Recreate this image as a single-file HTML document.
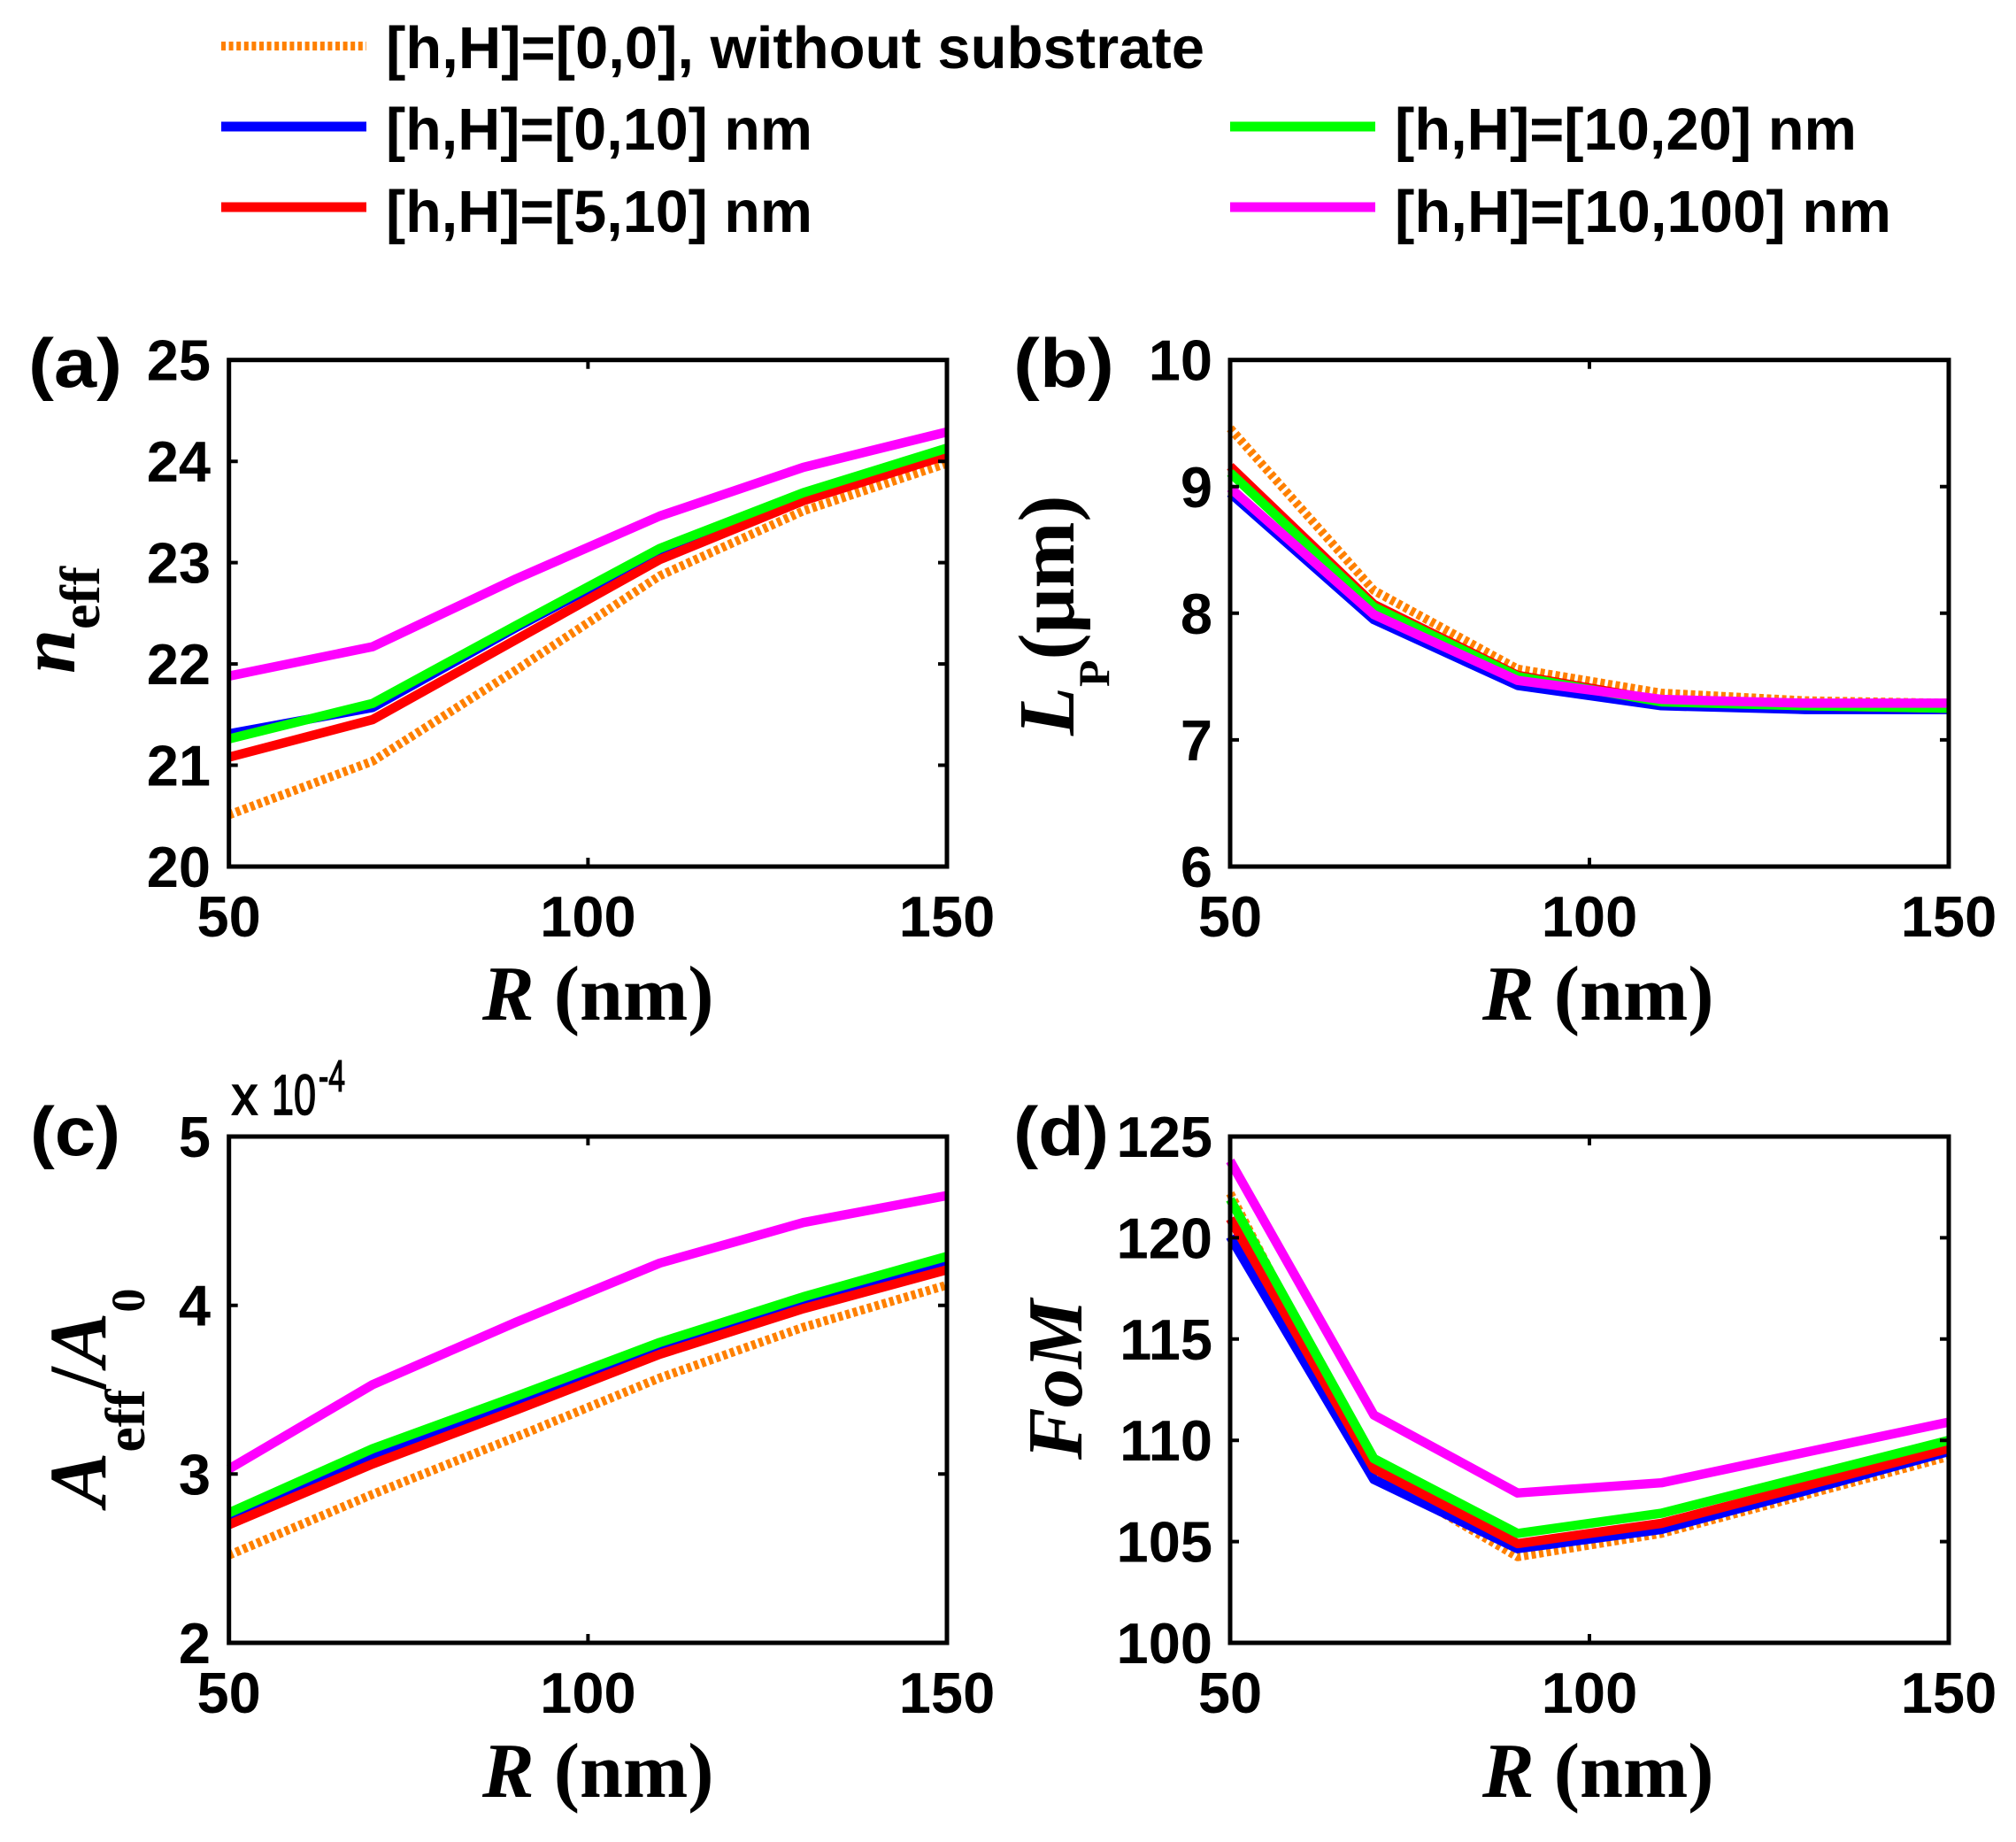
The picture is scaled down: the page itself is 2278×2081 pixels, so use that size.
<!DOCTYPE html>
<html>
<head>
<meta charset="utf-8">
<style>
html,body{margin:0;padding:0;background:#fff;}
svg{display:block;}
.tk{font-family:"Liberation Sans",Arial,sans-serif;font-weight:bold;font-size:65px;fill:#000;}
.lg{font-family:"Liberation Sans",Arial,sans-serif;font-weight:bold;font-size:67px;fill:#000;}
.pl{font-family:"Liberation Sans",Arial,sans-serif;font-weight:bold;font-size:78px;fill:#000;}
.tm{font-family:"Liberation Serif","Times New Roman",serif;font-weight:bold;fill:#000;}
.it{font-style:italic;}
.ex{font-family:"Liberation Sans",Arial,sans-serif;fill:#000;stroke:#000;}
</style>
</head>
<body>
<svg width="2278" height="2081" viewBox="0 0 2278 2081" xmlns="http://www.w3.org/2000/svg">
<rect x="0" y="0" width="2278" height="2081" fill="#fff"/>

<!-- Legend -->
<g fill="none" stroke-linecap="butt">
  <line x1="250" y1="52" x2="414" y2="52" stroke="#FF8000" stroke-width="10" stroke-dasharray="5 3.6"/>
  <line x1="250" y1="143" x2="414" y2="143" stroke="#0000FF" stroke-width="11"/>
  <line x1="250" y1="234" x2="414" y2="234" stroke="#FF0000" stroke-width="11"/>
  <line x1="1390" y1="143" x2="1554" y2="143" stroke="#00FF00" stroke-width="11"/>
  <line x1="1390" y1="234" x2="1554" y2="234" stroke="#FF00FF" stroke-width="11"/>
</g>
<text class="lg" x="436" y="77" textLength="925" lengthAdjust="spacingAndGlyphs">[h,H]=[0,0], without substrate</text>
<text class="lg" x="436" y="169" textLength="482" lengthAdjust="spacingAndGlyphs">[h,H]=[0,10] nm</text>
<text class="lg" x="436" y="262" textLength="482" lengthAdjust="spacingAndGlyphs">[h,H]=[5,10] nm</text>
<text class="lg" x="1576" y="169" textLength="522" lengthAdjust="spacingAndGlyphs">[h,H]=[10,20] nm</text>
<text class="lg" x="1576" y="262" textLength="561" lengthAdjust="spacingAndGlyphs">[h,H]=[10,100] nm</text>

<!-- ============ Panel (a) ============ -->
<g fill="none" stroke-linejoin="round" stroke-linecap="butt">
  <polyline stroke="#FF8000" stroke-width="10" stroke-dasharray="5 3.6" points="258.7,920.6 421,860 583.2,756.9 745.5,650.5 907.7,577.2 1070,523.4"/>
  <polyline stroke="#0000FF" stroke-width="10.5" points="258.7,829.1 421,799.3 583.2,708.9 745.5,623 907.7,560.1 1070,509.7"/>
  <polyline stroke="#FF0000" stroke-width="10.5" points="258.7,855.4 421,813 583.2,722.6 745.5,632.2 907.7,565.8 1070,514.3"/>
  <polyline stroke="#00FF00" stroke-width="10.5" points="258.7,834.8 421,794.7 583.2,706.6 745.5,619.6 907.7,556.6 1070,506.3"/>
  <polyline stroke="#FF00FF" stroke-width="10.5" points="258.7,763.8 421,730.6 583.2,653.9 745.5,583 907.7,528 1070,488"/>
</g>
<g stroke="#000" fill="none">
  <rect x="258.7" y="406.7" width="811.3" height="572.3" stroke-width="5"/>
  <path stroke-width="4" d="M258.7,864.5h10M258.7,750.1h10M258.7,635.6h10M258.7,521.2h10
  M1070,864.5h-10M1070,750.1h-10M1070,635.6h-10M1070,521.2h-10
  M664.4,979v-10M664.4,406.7v10"/>
</g>
<g class="tk" text-anchor="end">
  <text x="238" y="1002">20</text>
  <text x="238" y="887.5">21</text>
  <text x="238" y="773.1">22</text>
  <text x="238" y="658.6">23</text>
  <text x="238" y="544.2">24</text>
  <text x="238" y="429.7">25</text>
</g>
<g class="tk" text-anchor="middle">
  <text x="258.7" y="1058">50</text>
  <text x="664.4" y="1058">100</text>
  <text x="1070" y="1058">150</text>
</g>
<text class="tm" x="545" y="1152" font-size="88"><tspan class="it">R</tspan> (nm)</text>
<text class="tm" transform="translate(84,761) rotate(-90)" font-size="90"><tspan class="it">n</tspan><tspan font-size="64" dy="28">eff</tspan></text>
<text class="pl" x="32" y="437" textLength="106" lengthAdjust="spacingAndGlyphs">(a)</text>

<!-- ============ Panel (b) ============ -->
<g fill="none" stroke-linejoin="round" stroke-linecap="butt">
  <polyline stroke="#FF8000" stroke-width="10" stroke-dasharray="5 3.6" points="1390,483.9 1552.4,667.1 1714.8,755.8 1877.2,783 2039.6,791.6 2202,794.4"/>
  <polyline stroke="#0000FF" stroke-width="10.5" points="1390,556.9 1552.4,700 1714.8,774.4 1877.2,797.3 2039.6,801.6 2202,801.6"/>
  <polyline stroke="#FF0000" stroke-width="10.5" points="1390,526.9 1552.4,682.8 1714.8,762.9 1877.2,791.6 2039.6,797.3 2202,800.1"/>
  <polyline stroke="#00FF00" stroke-width="10.5" points="1390,534 1552.4,685.7 1714.8,764.4 1877.2,793 2039.6,797.3 2202,800.1"/>
  <polyline stroke="#FF00FF" stroke-width="10.5" points="1390,551.2 1552.4,694.3 1714.8,768.7 1877.2,790.1 2039.6,794.4 2202,794.4"/>
</g>
<g stroke="#000" fill="none">
  <rect x="1390" y="406.7" width="812" height="572.3" stroke-width="5"/>
  <path stroke-width="4" d="M1390,835.9h10M1390,692.8h10M1390,549.8h10
  M2202,835.9h-10M2202,692.8h-10M2202,549.8h-10
  M1796,979v-10M1796,406.7v10"/>
</g>
<g class="tk" text-anchor="end">
  <text x="1370" y="1002">6</text>
  <text x="1370" y="858.9">7</text>
  <text x="1370" y="715.8">8</text>
  <text x="1370" y="572.8">9</text>
  <text x="1370" y="429.7">10</text>
</g>
<g class="tk" text-anchor="middle">
  <text x="1390" y="1058">50</text>
  <text x="1796" y="1058">100</text>
  <text x="2202" y="1058">150</text>
</g>
<text class="tm" x="1675" y="1152" font-size="88"><tspan class="it">R</tspan> (nm)</text>
<text class="tm" transform="translate(1213,831) rotate(-90)" font-size="90"><tspan class="it">L</tspan><tspan font-size="50" dy="40">P</tspan><tspan dy="-40">(μm)</tspan></text>
<text class="pl" x="1145" y="437" textLength="114" lengthAdjust="spacingAndGlyphs">(b)</text>

<!-- ============ Panel (c) ============ -->
<g fill="none" stroke-linejoin="round" stroke-linecap="butt">
  <polyline stroke="#FF8000" stroke-width="10" stroke-dasharray="5 3.6" points="258.7,1756.9 421,1688.2 583.2,1623.4 745.5,1556.7 907.7,1499.5 1070,1451.8"/>
  <polyline stroke="#0000FF" stroke-width="10.5" points="258.7,1716.8 421,1646.3 583.2,1585.3 745.5,1524.2 907.7,1472.8 1070,1427"/>
  <polyline stroke="#FF0000" stroke-width="10.5" points="258.7,1722.5 421,1653.9 583.2,1592.9 745.5,1530 907.7,1478.5 1070,1434.6"/>
  <polyline stroke="#00FF00" stroke-width="10.5" points="258.7,1709.2 421,1636.7 583.2,1577.6 745.5,1516.6 907.7,1465.1 1070,1419.4"/>
  <polyline stroke="#FF00FF" stroke-width="10.5" points="258.7,1659.6 421,1564.3 583.2,1493.7 745.5,1427 907.7,1381.2 1070,1350.7"/>
</g>
<g stroke="#000" fill="none">
  <rect x="258.7" y="1284" width="811.3" height="572" stroke-width="5"/>
  <path stroke-width="4" d="M258.7,1665.3h10M258.7,1474.7h10
  M1070,1665.3h-10M1070,1474.7h-10
  M664.4,1856v-10M664.4,1284v10"/>
</g>
<g class="tk" text-anchor="end">
  <text x="238" y="1879">2</text>
  <text x="238" y="1688.3">3</text>
  <text x="238" y="1497.7">4</text>
  <text x="238" y="1307">5</text>
</g>
<g class="tk" text-anchor="middle">
  <text x="258.7" y="1935">50</text>
  <text x="664.4" y="1935">100</text>
  <text x="1070" y="1935">150</text>
</g>
<text class="ex" x="262" y="1259" font-size="62" stroke-width="1.8" textLength="29" lengthAdjust="spacingAndGlyphs">x</text>
<text class="ex" x="307" y="1259" font-size="64" stroke-width="1.8" textLength="50" lengthAdjust="spacingAndGlyphs">10</text>
<text class="ex" x="360" y="1233" font-size="50" stroke-width="1.4" textLength="30" lengthAdjust="spacingAndGlyphs">-4</text>
<text class="tm" x="545" y="2030" font-size="88"><tspan class="it">R</tspan> (nm)</text>
<text class="tm" transform="translate(119,1702) rotate(-90)" font-size="92"><tspan class="it">A</tspan><tspan font-size="64" dy="44">eff</tspan><tspan dy="-44">/</tspan><tspan class="it">A</tspan><tspan font-size="54" dy="44">0</tspan></text>
<text class="pl" x="34" y="1305" textLength="102" lengthAdjust="spacingAndGlyphs">(c)</text>

<!-- ============ Panel (d) ============ -->
<g fill="none" stroke-linejoin="round" stroke-linecap="butt">
  <polyline stroke="#FF8000" stroke-width="10" stroke-dasharray="5 3.6" points="1390,1348.1 1552.4,1663.8 1714.8,1758.8 1877.2,1732.4 2039.6,1689 2202,1645.5"/>
  <polyline stroke="#0000FF" stroke-width="10.5" points="1390,1397 1552.4,1671.4 1714.8,1749.6 1877.2,1727.9 2039.6,1684.4 2202,1639.8"/>
  <polyline stroke="#FF0000" stroke-width="10.5" points="1390,1376.7 1552.4,1659.2 1714.8,1743.9 1877.2,1721 2039.6,1678.7 2202,1636.4"/>
  <polyline stroke="#00FF00" stroke-width="10.5" points="1390,1354.9 1552.4,1647.8 1714.8,1732.4 1877.2,1709.6 2039.6,1668.4 2202,1627.2"/>
  <polyline stroke="#FF00FF" stroke-width="10.5" points="1390,1311.5 1552.4,1598.6 1714.8,1686.7 1877.2,1675.2 2039.6,1640.9 2202,1606.6"/>
</g>
<g stroke="#000" fill="none">
  <rect x="1390" y="1284" width="812" height="572" stroke-width="5"/>
  <path stroke-width="4" d="M1390,1741.6h10M1390,1627.2h10M1390,1512.8h10M1390,1398.4h10
  M2202,1741.6h-10M2202,1627.2h-10M2202,1512.8h-10M2202,1398.4h-10
  M1796,1856v-10M1796,1284v10"/>
</g>
<g class="tk" text-anchor="end">
  <text x="1370" y="1879">100</text>
  <text x="1370" y="1764.6">105</text>
  <text x="1370" y="1650.2">110</text>
  <text x="1370" y="1535.8">115</text>
  <text x="1370" y="1421.4">120</text>
  <text x="1370" y="1307">125</text>
</g>
<g class="tk" text-anchor="middle">
  <text x="1390" y="1935">50</text>
  <text x="1796" y="1935">100</text>
  <text x="2202" y="1935">150</text>
</g>
<text class="tm" x="1675" y="2030" font-size="88"><tspan class="it">R</tspan> (nm)</text>
<text class="tm it" transform="translate(1222,1649) rotate(-90)" font-size="88">FoM</text>
<text class="pl" x="1145" y="1305" textLength="108" lengthAdjust="spacingAndGlyphs">(d)</text>
</svg>
</body>
</html>
